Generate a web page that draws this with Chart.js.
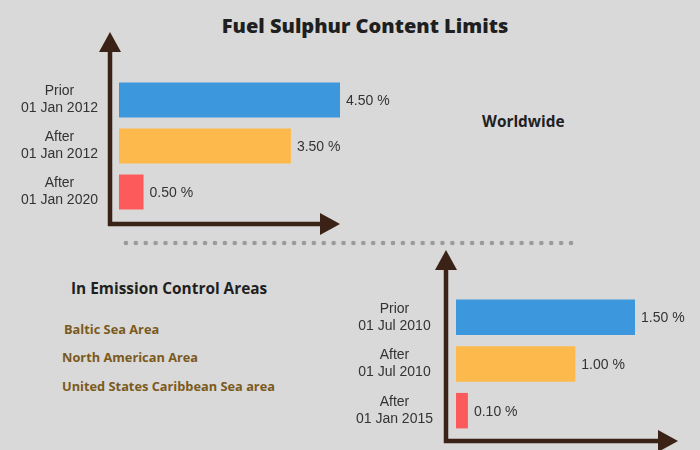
<!DOCTYPE html>
<html>
<head>
<meta charset="utf-8">
<script src="https://cdn.jsdelivr.net/npm/chart.js@4"></script>
<style>
  html, body { margin: 0; padding: 0; }
  body { width: 700px; height: 450px; background: #d9d9d9; position: relative; overflow: hidden; font-family: "Open Sans", sans-serif; }
  canvas.layer { position: absolute; left: 0; top: 0; }
  .txt { position: absolute; white-space: nowrap; transform: translateY(-50%); font-weight: 700; }
  .title { left: 0; width: 730px; text-align: center; top: 25px; font-size: 20px; color: #1f1f1f; font-weight: 800; }
  .head { font-size: 15.4px; color: #1f1f1f; }
  .area { font-size: 12.8px; color: #7b5a20; }
  .dots { position: absolute; left: 121px; top: 240px; width: 455px; height: 6px;
          background: radial-gradient(circle, #9a9a9a 2px, rgba(154,154,154,0) 2.6px);
          background-size: 9.9px 6px; }
</style>
</head>
<body>
<div class="txt title">Fuel Sulphur Content Limits</div>
<div class="txt head" style="left:482px; top:121px;">Worldwide</div>
<div class="txt head" style="left:71px; top:288px;">In Emission Control Areas</div>
<div class="txt area" style="left:64px; top:329px;">Baltic Sea Area</div>
<div class="txt area" style="left:62px; top:357px;">North American Area</div>
<div class="txt area" style="left:62px; top:386px;">United States Caribbean Sea area</div>
<div class="dots"></div>

<canvas class="layer" id="worldChart" width="700" height="500"></canvas>
<canvas class="layer" id="ecaChart" width="700" height="500"></canvas>

<script>
// Worldwide limits
const worldLabels = [['Prior', '01 Jan 2012'], ['After', '01 Jan 2012'], ['After', '01 Jan 2020']];
const worldValues = [4.5, 3.5, 0.5];

// Emission Control Area limits
const ecaLabels = [['Prior', '01 Jul 2010'], ['After', '01 Jul 2010'], ['After', '01 Jan 2015']];
const ecaValues = [1.5, 1.0, 0.1];

const barColors = ['#3d97dd', '#fdb94b', '#fd5b5b'];
const axisColor = '#3a2217';

// Draws the arrow axes and the value labels next to the bars
const arrowAxes = {
    id: 'arrowAxes',
    afterDatasetsDraw(chart, args, opts) {
        const { ctx, chartArea } = chart;
        const ax = chartArea.left - opts.gap;
        const ay = chartArea.bottom + opts.below;
        const tipY = chartArea.top - opts.above;
        const tipX = chartArea.right + opts.beyond;

        ctx.save();
        ctx.strokeStyle = axisColor;
        ctx.fillStyle = axisColor;
        ctx.lineWidth = 4.5;
        ctx.beginPath();
        ctx.moveTo(ax, ay + 2);
        ctx.lineTo(ax, tipY + 18);
        ctx.moveTo(ax - 2, ay);
        ctx.lineTo(tipX - 18, ay);
        ctx.stroke();

        ctx.beginPath();
        ctx.moveTo(ax, tipY);
        ctx.lineTo(ax - 11, tipY + 20);
        ctx.lineTo(ax + 11, tipY + 20);
        ctx.closePath();
        ctx.fill();

        ctx.beginPath();
        ctx.moveTo(tipX, ay);
        ctx.lineTo(tipX - 20, ay - 11);
        ctx.lineTo(tipX - 20, ay + 11);
        ctx.closePath();
        ctx.fill();

        // value labels
        const meta = chart.getDatasetMeta(0);
        const data = chart.data.datasets[0].data;
        ctx.font = '14px "Liberation Sans", Arial, sans-serif';
        ctx.fillStyle = '#333333';
        ctx.textAlign = 'left';
        ctx.textBaseline = 'middle';
        meta.data.forEach((bar, i) => {
            ctx.fillText(data[i].toFixed(2) + ' %', bar.x + 6, bar.y + 1);
        });
        ctx.restore();
    }
};

function makeChart(id, labels, values, box, arrows) {
    const ctx = document.getElementById(id).getContext('2d');
    return new Chart(ctx, {
        type: 'bar',
        data: {
            labels: labels,
            datasets: [{
                data: values,
                backgroundColor: barColors,
                borderWidth: 0,
                barPercentage: 0.76,
                categoryPercentage: 1
            }]
        },
        options: {
            indexAxis: 'y',
            responsive: false,
            animation: false,
            devicePixelRatio: 1,
            layout: { padding: box.padding },
            scales: {
                x: {
                    display: false,
                    min: 0,
                    max: values[0]
                },
                y: {
                    grid: { display: false, drawTicks: false },
                    border: { display: false },
                    afterFit: (s) => { s.width = box.axisWidth; },
                    ticks: {
                        crossAlign: 'center',
                        padding: box.tickPad,
                        color: '#333333',
                        font: { family: '"Liberation Sans", Arial, sans-serif', size: 14, lineHeight: 1.2 }
                    }
                }
            },
            plugins: {
                legend: { display: false },
                tooltip: { enabled: false },
                arrowAxes: arrows
            }
        },
        plugins: [arrowAxes]
    });
}

// canvases are 500 tall (bottom 50px hidden) so the label overflow fits inside the padding
makeChart('worldChart', worldLabels, worldValues,
    { padding: { left: 0, right: 360, top: 77, bottom: 285 }, axisWidth: 119, tickPad: 21 },
    { gap: 9, below: 9, above: 45, beyond: 0 });

makeChart('ecaChart', ecaLabels, ecaValues,
    { padding: { left: 346, right: 65, top: 294, bottom: 66 }, axisWidth: 110, tickPad: 23 },
    { gap: 10, below: 7, above: 44, beyond: 43 });
</script>
</body>
</html>
